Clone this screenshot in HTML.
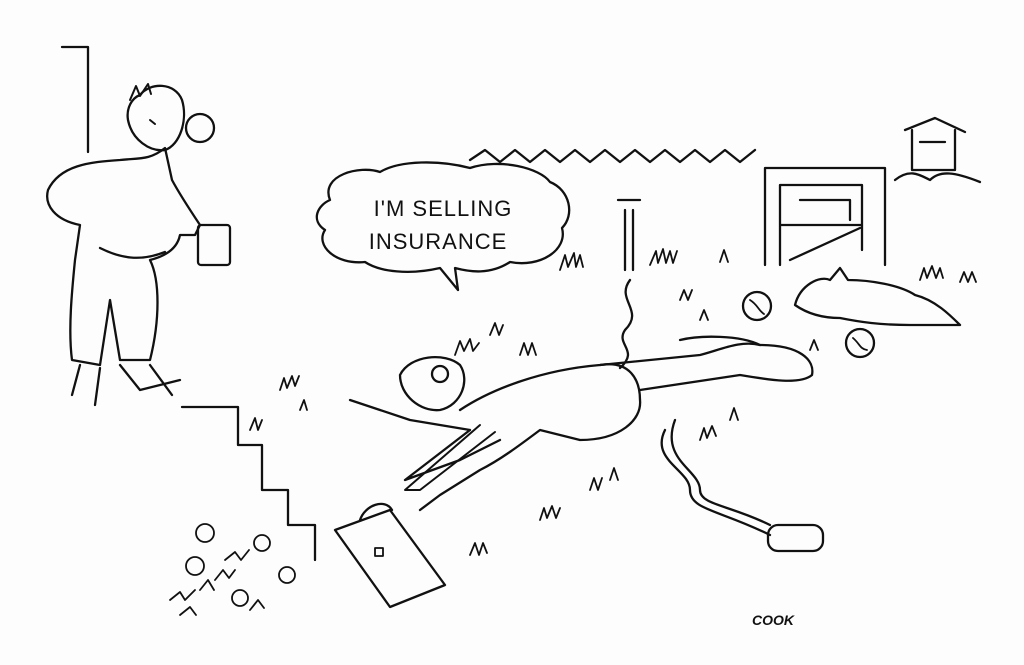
<!DOCTYPE html>
<html><head><meta charset="utf-8"><style>
html,body{margin:0;padding:0;background:#fdfdfd;}
svg{display:block}
text{font-family:"Liberation Sans",sans-serif;}
</style></head><body>
<svg width="1024" height="665" viewBox="0 0 1024 665" xmlns="http://www.w3.org/2000/svg" fill="none" stroke="#111" stroke-width="2.3" stroke-linecap="round" stroke-linejoin="round">
<rect x="0" y="0" width="1024" height="665" fill="#fdfdfd" stroke="none"/>
<!-- wall -->
<path d="M62 47 L88 47 L88 152"/>
<!-- standing person -->
<path d="M140 95 C150 82 175 82 182 100 C188 120 180 145 165 150 C150 152 132 140 128 120 C126 108 132 98 140 95Z"/>
<path d="M130 100 l6 -14 l4 10 l8 -12 l3 10 M150 120 l5 4" stroke-width="2"/>
<circle cx="200" cy="128" r="14"/>
<path d="M165 148 C150 160 140 158 120 160 C90 162 60 165 48 190 C44 205 55 220 80 225 L75 260 C72 290 68 330 72 360 L100 365 L110 300 L120 360 L150 360 C160 320 160 280 150 260 C170 255 178 245 180 235 L195 235 L200 225 C190 210 180 195 172 180Z"/>
<path d="M100 248 C120 258 140 262 165 252"/>
<rect x="198" y="225" width="32" height="40" rx="3"/>
<path d="M80 365 L72 395 M100 368 L95 405 M120 365 L140 390 L180 380 M150 365 L172 395"/>
<!-- speech bubble -->
<path d="M330 200 C320 175 360 165 380 172 C400 160 440 160 470 168 C500 158 540 168 550 182 C570 190 575 215 562 228 C568 250 540 268 510 262 C490 275 470 272 455 268 L458 290 L440 268 C410 275 380 272 365 262 C335 265 315 245 325 230 C310 220 318 205 330 200Z"/>
<text x="443" y="216" font-size="22" text-anchor="middle" fill="#111" stroke="none" letter-spacing="1">I'M SELLING</text>
<text x="438" y="249" font-size="22" text-anchor="middle" fill="#111" stroke="none" letter-spacing="1">INSURANCE</text>
<!-- zigzag fence -->
<path d="M470 160 L485 150 L500 162 L515 150 L530 162 L545 150 L560 162 L575 150 L590 162 L605 150 L620 162 L635 150 L650 162 L665 150 L680 162 L695 150 L710 162 L725 150 L740 162 L755 150"/>
<!-- shed door -->
<path d="M765 265 L765 168 L885 168 L885 265 M780 265 L780 185 L862 185 L862 250 M780 225 L862 225 M790 260 L860 228 M800 200 L850 200 L850 220"/>
<!-- small house -->
<path d="M905 130 L935 118 L965 132 M912 130 L912 170 L955 170 L955 130 M920 142 L945 142"/>
<path d="M895 180 C910 168 920 175 930 180 C940 170 955 172 980 182"/>
<!-- tap + hose -->
<path d="M618 200 L640 200 M625 210 L625 270 M633 210 L633 270 M630 280 C615 300 645 310 625 330 C615 345 640 350 620 368"/>
<path d="M665 430 C650 460 690 470 690 490 C690 510 720 510 770 535 M675 420 C660 460 700 470 700 490 C700 505 730 505 770 525"/>
<rect x="768" y="525" width="55" height="26" rx="10"/>
<!-- grass -->
<path d="M560 270 l5 -15 l3 12 l6 -14 l2 14 l4 -12 l3 12 M650 265 l6 -14 l2 12 l5 -14 l3 14 l4 -12 l3 12 l4 -12 M720 262 l4 -12 l4 12 M920 280 l4 -12 l3 10 l5 -12 l4 12 l4 -10 l3 10 M960 282 l4 -10 l4 10 l4 -10 l4 10 M280 390 l4 -12 l3 10 l5 -12 l3 10 l4 -10 M520 355 l4 -12 l4 12 l4 -12 l4 12 M540 520 l4 -12 l3 10 l5 -12 l4 12 l4 -10 M470 555 l5 -12 l4 12 l4 -12 l4 10 M700 440 l4 -12 l3 10 l5 -12 l4 10 M730 420 l4 -12 l4 12 M250 430 l5 -12 l3 12 l4 -10 M590 490 l4 -12 l4 12 l4 -12 M490 335 l5 -12 l4 12 l4 -10 M300 410 l4 -10 l3 10 M610 480 l4 -12 l4 12 M680 300 l4 -10 l4 10 l4 -10 M700 320 l4 -10 l4 10 M810 350 l4 -10 l4 10" stroke-width="1.8"/>
<!-- balls -->
<circle cx="757" cy="306" r="14"/><circle cx="860" cy="343" r="14"/>
<path d="M750 300 C758 305 758 310 764 314 M853 338 C860 344 860 349 867 350" stroke-width="1.8"/>
<!-- dog -->
<path d="M795 305 C800 285 820 275 830 280 L840 268 L848 280 C870 280 900 285 915 295 C935 300 950 315 960 325 L910 325 C880 325 860 322 840 318 C820 318 805 312 795 305Z"/>
<!-- lying man -->
<path d="M400 375 C410 355 445 352 460 365 C470 380 462 405 440 410 C420 412 400 395 400 375Z"/>
<path d="M455 355 l5 -14 l4 10 l6 -12 l3 12 l6 -8" stroke-width="1.8"/>
<circle cx="440" cy="374" r="8"/>
<path d="M350 400 L380 410 L410 420 L470 430 M460 410 C490 390 540 370 600 365 C630 360 640 380 640 400 C642 420 620 440 580 440 L540 430 C520 445 500 460 480 470 L440 495 L420 510 M470 430 L405 480 L460 460 L500 440"/>
<path d="M600 365 L700 355 C720 350 740 340 760 345 C800 345 815 360 812 375 C800 385 770 380 740 375 L640 390"/>
<path d="M680 340 C700 335 740 335 760 345"/>
<path d="M480 425 L405 490 L420 490 L495 432" stroke-width="2"/>
<!-- briefcase -->
<path d="M335 530 L390 510 L445 585 L390 607 Z M360 520 C365 505 385 498 392 510"/>
<rect x="375" y="548" width="8" height="8" stroke-width="1.8"/>
<!-- steps -->
<path d="M182 407 L238 407 L238 445 L262 445 L262 490 L288 490 L288 525 L315 525 L315 560"/>
<!-- flowers -->
<g stroke-width="1.8">
<circle cx="205" cy="533" r="9"/><circle cx="262" cy="543" r="8"/><circle cx="195" cy="566" r="9"/><circle cx="287" cy="575" r="8"/><circle cx="240" cy="598" r="8"/>
<path d="M170 600 l10 -8 l5 8 l10 -10 M200 590 l8 -10 l6 10 M225 560 l10 -8 l6 8 l8 -10 M180 615 l10 -8 l6 8 M250 610 l8 -10 l6 8 M215 580 l8 -10 l6 8 l6 -8"/>
</g>
<!-- signature -->
<text x="752" y="625" font-size="14" fill="#111" stroke="none" font-weight="bold" font-style="italic">COOK</text>
</svg>
</body></html>
